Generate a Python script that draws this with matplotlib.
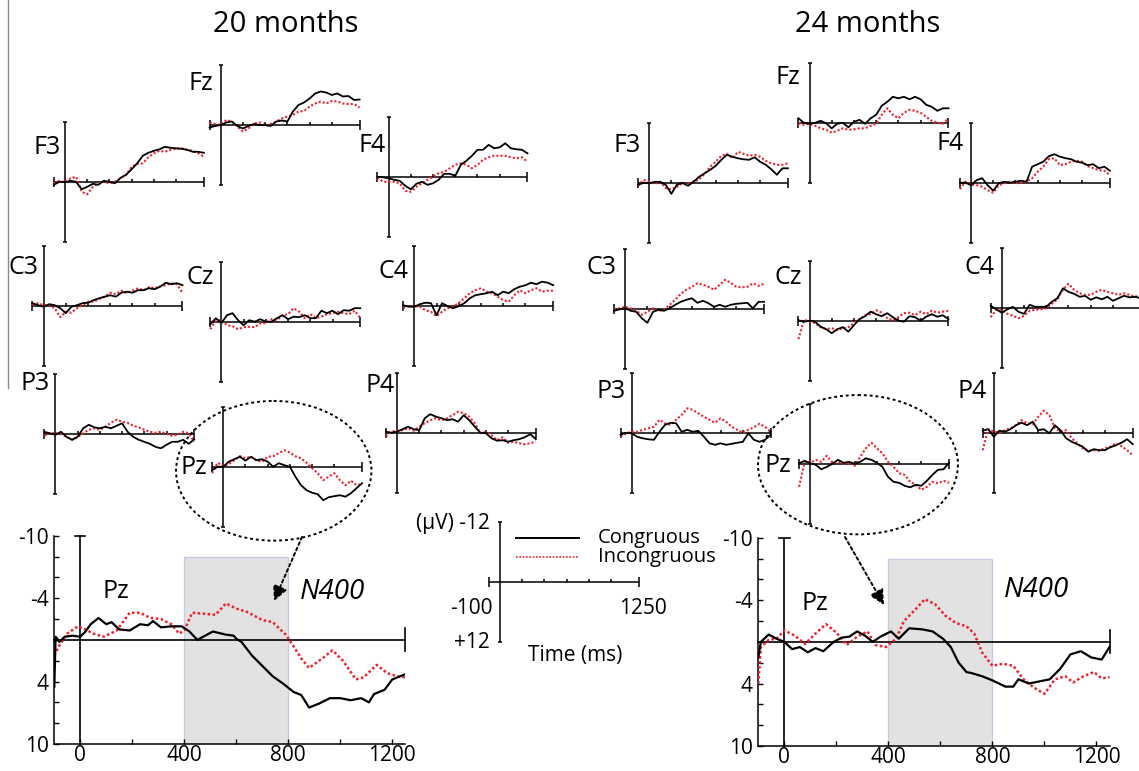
import numpy as np
import matplotlib
matplotlib.use('Agg')
import matplotlib.pyplot as plt
from matplotlib.patches import Ellipse, Rectangle

W, H = 1139, 771
RED = '#f0202a'
plt.rcParams['font.family'] = ['Open Sans', 'DejaVu Sans']

# ---- data -----------------------------------------------------------------
# time points (ms) at which the small electrode waveforms were read
t_small = [-100, -50, 0, 50, 100, 150, 200, 250, 300, 350, 400, 450, 500, 550,
           600, 650, 700, 750, 800, 850, 900, 950, 1000, 1050, 1100, 1150, 1200, 1250]

# 20 months, amplitude in uV (negative up)
f3_20_con = [0.5, -0.1, 0.0, -0.3, -0.1, 1.4, 0.9, 0.3, 0.5, -0.3, -0.1, 0.2, -0.9, -1.5,
             -2.6, -3.8, -5.3, -5.9, -6.3, -6.6, -7.1, -6.9, -6.8, -6.7, -6.5, -6.1, -6.1, -5.9]
f3_20_inc = [0.2, -0.3, 0.0, -0.8, -1.1, 1.9, 2.4, 0.9, 0.2, -0.1, 0.2, -0.1, -0.8, -1.5,
             -3.1, -3.7, -3.8, -5.0, -5.8, -6.3, -6.1, -6.5, -6.7, -6.8, -6.5, -6.3, -5.8, -5.1]
fz_20_con = [0.5, 0.2, 0.0, -0.5, -0.7, 0.2, 0.7, 0.2, -0.2, 0.0, 0.0, 0.2, -0.7, -0.9,
             -0.7, -2.7, -4.0, -4.5, -5.3, -6.3, -6.7, -6.5, -6.0, -6.3, -5.7, -5.8, -5.0, -5.1]
fz_20_inc = [-0.5, -0.2, 0.0, -1.0, -0.7, 0.3, 1.3, 0.7, -0.3, -0.5, 0.2, -0.2, -0.7, -1.3,
             -1.7, -2.0, -2.7, -2.8, -3.7, -4.3, -4.7, -4.3, -4.8, -4.7, -4.3, -4.2, -4.2, -3.5]
f4_20_con = [-0.1, 0.0, 0.2, 0.5, 0.7, 1.7, 2.4, 1.3, 0.9, 1.5, 1.2, 0.5, -0.7, -0.7,
             -0.3, -2.5, -3.3, -4.3, -5.5, -5.5, -6.5, -5.8, -6.0, -6.8, -5.8, -5.6, -5.5, -4.8]
f4_20_inc = [0.0, 0.9, 0.9, 0.9, 1.2, 2.7, 2.9, 1.9, 1.2, 0.5, -0.1, -0.8, -1.1, -1.8,
             -2.5, -2.8, -2.5, -1.8, -2.5, -3.5, -4.0, -4.3, -4.3, -4.3, -4.0, -3.8, -4.0, -3.1]
c3_20_con = [-0.5, -0.1, 0.2, -0.3, -0.1, 0.5, 1.5, 0.2, -0.1, -0.5, -0.6, -1.1, -1.5, -1.8,
             -2.1, -1.8, -2.6, -2.8, -2.6, -3.1, -3.1, -3.5, -3.3, -3.8, -4.6, -4.3, -4.5, -4.1]
c3_20_inc = [-0.1, -0.5, -0.1, -0.1, 0.5, 2.3, 1.2, 1.4, 0.5, -0.1, -0.8, -0.8, -1.3, -1.8,
             -2.6, -2.3, -3.0, -2.5, -3.0, -3.5, -3.1, -3.7, -3.5, -3.9, -4.1, -4.5, -4.3, -2.6]
cz_20_con = [0.5, -0.7, 0.3, -1.3, -1.7, -0.3, 0.7, -0.3, 0.0, -0.5, 0.0, 0.0, -0.7, -1.3,
             -0.5, -1.0, -0.9, -1.3, -0.7, -0.7, -2.2, -1.7, -2.2, -1.5, -2.3, -2.2, -2.7, -2.7]
cz_20_inc = [1.5, -0.3, -0.3, 0.7, 0.9, 1.5, 1.1, 1.0, 1.1, 0.3, 0.3, -0.5, -0.3, -1.3,
             -1.5, -2.7, -2.0, -0.7, -1.5, -0.7, -1.0, -1.5, -1.7, -2.0, -1.7, -1.5, -2.2, -0.7]
c4_20_con = [-0.1, 0.2, 0.2, -0.3, -0.6, -0.5, 1.9, -0.5, 0.1, 0.5, 0.1, -0.5, -1.5, -2.1,
             -2.3, -2.5, -2.8, -2.1, -2.8, -2.5, -3.3, -3.8, -4.1, -4.6, -4.3, -4.8, -4.6, -4.1]
c4_20_inc = [0.5, 0.1, 0.1, 0.2, 0.9, 1.2, 2.1, 1.2, 0.5, 0.1, -0.5, -1.5, -2.5, -3.1,
             -3.5, -2.8, -2.5, -1.8, -1.1, -0.8, -2.1, -3.1, -2.5, -3.1, -3.5, -2.8, -3.0, -3.0]
p3_20_con = [-0.5, -0.2, 0.1, -0.5, 0.5, 1.1, 0.5, -1.2, -1.9, -1.4, -1.2, -1.5, -1.2, -1.7,
             -2.2, -0.5, 0.5, 1.1, 1.5, 1.9, 2.5, 2.8, 2.1, 1.5, 1.5, 1.1, 1.9, 1.0]
p3_20_inc = [0.3, -0.3, -0.2, -0.1, 0.5, 1.1, 0.6, -0.2, -0.9, -1.2, -0.9, -1.5, -2.3, -2.9,
             -2.5, -2.3, -1.7, -1.4, -0.9, -0.5, -0.3, -0.5, -0.1, 0.3, 0.1, -0.5, -0.2, 1.5]
pz_20_con = [0.7, 0.0, 0.0, -1.0, -1.5, -2.0, -1.2, -2.0, -1.3, -1.5, -1.0, 0.0, -0.7, -0.3,
             0.0, 2.0, 3.7, 4.7, 5.2, 5.5, 6.7, 6.1, 5.9, 5.7, 6.0, 5.3, 4.3, 3.3]
pz_20_inc = [1.3, -0.8, -0.1, -0.5, -1.3, -2.1, -1.7, -2.0, -1.2, -1.0, -2.0, -2.1, -2.7, -3.3,
             -2.8, -2.1, -1.7, -0.8, 0.3, 1.3, 2.7, 2.0, 1.3, 2.7, 3.7, 2.8, 3.7, 3.5]
p4_20_con = [-0.2, 0.0, -0.2, -0.7, -1.2, -0.7, -0.5, -2.9, -3.7, -3.2, -2.9, -2.5, -2.7, -2.2,
             -3.5, -2.5, -1.2, 0.0, 0.1, 1.1, 1.6, 1.5, 1.8, 1.5, 1.3, 0.9, 0.3, 1.3]
p4_20_inc = [0.7, -0.2, -0.4, -0.5, -0.9, -0.4, -1.2, -1.9, -2.5, -2.9, -2.5, -2.9, -3.5, -4.2,
             -3.9, -3.2, -1.9, 0.1, -0.2, 0.5, 1.5, 0.9, 2.0, 1.8, 2.1, 2.3, 2.1, 1.8]

# 24 months
f3_24_con = [0.3, -0.1, 0.0, -0.3, -0.3, 0.3, 2.1, 0.3, -0.1, 0.5, -0.3, -1.3, -2.0, -2.7,
             -3.5, -4.7, -5.7, -5.3, -5.0, -4.8, -4.7, -5.2, -4.3, -3.7, -2.8, -1.7, -3.0, -3.0]
f3_24_inc = [0.5, -0.7, -0.3, 0.1, -0.3, 1.0, 1.2, 0.7, 0.0, 0.1, -0.3, -0.8, -1.9, -3.3,
             -4.3, -5.5, -5.9, -5.0, -6.3, -5.9, -5.5, -5.7, -5.3, -4.5, -4.0, -3.7, -3.7, -4.0]
fz_24_con = [-1.0, -0.1, 0.1, -0.1, -0.5, 0.0, 1.0, 0.1, -0.1, 0.8, -0.3, -0.7, 0.1, -1.0,
             -1.7, -3.5, -4.3, -5.3, -5.0, -5.3, -4.8, -5.3, -4.8, -3.7, -3.3, -2.5, -3.0, -3.0]
fz_24_inc = [0.0, 0.3, 0.1, 0.5, 1.0, 1.3, 1.9, 1.5, 1.0, 1.3, 1.2, 1.0, 1.0, 0.5,
             0.1, -1.7, -3.0, -1.7, -1.0, -2.1, -2.7, -2.5, -2.1, -1.3, -0.5, -0.1, 0.1, -1.0]
f4_24_con = [0.0, 0.0, 0.5, -0.5, -0.9, 0.5, 1.6, 0.1, -0.2, 0.0, -0.2, -0.4, -0.2, -3.2,
             -3.7, -4.2, -5.3, -5.7, -5.2, -4.9, -4.7, -4.2, -4.0, -3.5, -3.7, -2.9, -3.2, -2.4]
f4_24_inc = [1.3, -0.2, 0.3, 0.5, 0.8, 1.5, 2.0, 0.5, 0.1, -0.2, 0.1, 0.0, -0.2, -0.9,
             -2.2, -3.2, -4.7, -4.9, -3.5, -3.7, -4.2, -4.4, -4.2, -3.3, -2.9, -2.5, -2.4, -1.5]
c3_24_con = [0.3, 0.0, -0.2, 0.3, 0.5, 1.8, 2.7, 0.5, 0.1, 0.3, -0.2, -0.9, -1.5, -1.9,
             -2.2, -1.3, -1.7, -1.2, -0.5, -0.9, -0.5, -0.9, -1.1, -1.2, -1.3, -0.2, -1.5, -1.5]
c3_24_inc = [0.1, -0.2, -0.5, -0.2, 0.3, 1.1, 0.5, -0.2, 0.3, 0.1, -0.9, -1.9, -3.1, -3.9,
             -4.5, -5.2, -4.9, -4.5, -3.9, -4.9, -5.9, -5.3, -4.5, -4.4, -4.5, -5.2, -4.7, -5.1]
cz_24_con = [-0.1, 0.2, 0.0, 0.2, 1.2, 1.7, 2.5, 1.7, 1.3, 2.2, 0.9, -0.3, -0.9, -1.8,
             -1.3, -0.9, -1.5, -0.7, 0.0, 0.2, -0.9, -0.7, 0.0, -0.8, -1.3, -0.8, -1.1, -0.3]
cz_24_inc = [3.7, -0.1, 0.0, 0.5, 1.3, 1.7, 1.5, 1.9, 1.5, 1.3, 0.5, -0.3, -1.1, -1.3,
             -2.1, -1.6, -0.5, -0.1, -0.7, -1.5, -1.6, -1.1, -1.8, -1.3, -2.0, -1.6, -1.8, -2.0]
c4_24_con = [-0.5, 0.2, 0.9, 0.2, -0.3, 0.7, 1.1, -0.7, -0.3, -0.3, -0.3, -1.3, -2.0, -4.0,
             -3.3, -2.9, -2.3, -2.5, -1.7, -2.2, -1.8, -2.3, -1.5, -2.0, -2.5, -2.2, -2.3, -2.0]
c4_24_inc = [1.8, 0.3, 0.3, 1.1, 1.5, 2.0, 1.5, 0.5, 0.3, 0.2, 0.0, -0.9, -1.8, -3.7,
             -4.9, -3.7, -3.0, -2.7, -2.7, -3.3, -3.7, -3.3, -3.0, -2.7, -3.0, -2.7, -2.3, -2.7]
p3_24_con = [0.3, -0.1, 0.0, 0.7, 1.0, 1.2, 1.3, -0.3, -1.7, -2.1, -2.0, -0.3, -0.7, -0.3,
             -0.5, 0.7, 2.0, 2.3, 2.0, 2.3, 2.1, 1.9, 1.7, 0.0, 1.3, 1.7, 1.3, 0.3]
p3_24_inc = [0.7, 0.0, -0.3, -0.3, -0.7, -1.0, -1.3, -2.7, -2.0, -1.7, -2.7, -3.7, -5.0, -4.7,
             -4.0, -3.3, -2.7, -2.1, -3.0, -2.3, -1.3, -0.7, -0.1, -0.7, -1.2, -1.9, -1.3, -0.3]
pz_24_con = [-0.2, -0.7, -0.2, 0.1, 1.0, 0.5, -0.1, -0.9, -0.3, -0.5, -0.1, -0.5, -1.2, -0.9,
             -0.3, 0.5, 2.5, 3.5, 3.7, 4.3, 4.6, 4.1, 4.3, 3.3, 2.1, 1.1, 1.0, -0.3]
pz_24_inc = [4.5, -0.5, -0.3, -0.9, -0.5, -1.7, -0.3, -0.5, -0.1, -0.3, 0.3, -1.5, -3.2, -4.3,
             -3.2, -2.2, -0.5, 0.5, 1.8, 2.1, 3.5, 4.1, 5.1, 4.5, 3.5, 3.8, 3.3, 3.7]
p4_24_con = [-0.4, -0.7, 0.8, -0.4, -0.2, -0.7, -1.5, -2.0, -1.5, -2.2, -0.5, -0.7, 0.1, -1.5,
             -0.5, 1.1, 1.8, 2.3, 2.8, 3.8, 3.3, 3.5, 3.5, 2.9, 2.5, 2.0, 1.3, 2.3]
p4_24_inc = [3.5, -0.7, -0.2, 0.0, -0.5, -0.9, -1.5, -2.5, -1.9, -1.7, -3.2, -4.4, -3.5, -0.9,
             -0.2, -0.5, 1.1, 2.1, 3.1, 3.6, 3.5, 3.6, 3.1, 2.8, 2.1, 2.7, 3.5, 4.5]

# enlarged Pz waveforms
pz20_t_con = [-100, -95, -80, -60, -30, 0, 20, 40, 70, 100, 120, 150, 190, 230, 260, 280, 310,
              350, 390, 420, 450, 480, 510, 560, 590, 600, 620, 660, 700, 740, 780, 820, 850,
              880, 920, 960, 1000, 1040, 1080, 1110, 1130, 1170, 1200, 1250]
pz20_con = [4.5, -0.3, 0.2, -0.3, -0.4, -0.3, -0.8, -1.5, -2.1, -1.5, -1.7, -1.0, -0.9, -1.5,
            -1.4, -1.8, -1.2, -1.3, -1.3, -0.8, 0.0, -0.4, -0.8, -0.5, -0.4, -0.1, 0.2, 1.5,
            2.5, 3.5, 4.2, 5.0, 5.3, 6.5, 6.1, 5.6, 5.6, 5.8, 5.6, 6.0, 5.2, 4.8, 3.8, 3.3]
pz20_t_inc = [-100, -80, -50, -10, 20, 50, 90, 140, 190, 230, 270, 310, 350, 380, 400, 430,
              480, 520, 560, 600, 640, 700, 740, 790, 820, 850, 880, 930, 970, 1010, 1060,
              1090, 1140, 1180, 1220, 1250]
pz20_inc = [1.5, 0.5, -0.6, -1.3, -1.0, -0.6, -0.3, -0.9, -2.6, -2.6, -2.1, -2.0, -1.5, -0.6,
            -0.9, -2.6, -2.5, -2.4, -3.5, -3.0, -2.7, -1.9, -1.7, -0.5, 0.6, 1.8, 2.7, 1.8,
            1.0, 2.0, 3.8, 3.6, 2.4, 3.2, 3.5, 3.6]
pz24_t_con = [-100, -90, -60, -30, 0, 30, 60, 90, 120, 150, 190, 220, 250, 280, 310, 340, 370,
              410, 440, 480, 530, 570, 610, 640, 670, 700, 720, 760, 800, 850, 880, 900, 940,
              980, 1020, 1060, 1100, 1140, 1180, 1220, 1250]
pz24_con = [1.5, 0.0, -0.7, -0.3, 0.0, 0.7, 0.5, 1.0, 0.6, 0.9, 0.0, -0.4, -0.5, -1.0, -0.6,
            0.0, -0.5, -1.0, -0.3, -1.3, -1.2, -1.0, -0.3, 0.5, 2.0, 2.9, 3.0, 3.3, 3.7, 4.3,
            4.3, 3.6, 4.0, 3.8, 3.6, 2.6, 1.2, 0.9, 1.5, 1.7, 0.5]
pz24_t_inc = [-100, -90, -60, -30, 0, 40, 80, 120, 160, 200, 240, 280, 320, 350, 390, 430, 460,
              500, 540, 580, 620, 660, 700, 730, 760, 800, 840, 880, 920, 960, 1000, 1040,
              1080, 1110, 1150, 1190, 1220, 1250]
pz24_inc = [4.0, 0.5, -0.2, -0.3, -1.1, -0.6, 0.2, -0.8, -1.7, -0.9, 0.3, -0.5, -1.0, 0.3, 0.5,
            -0.3, -2.0, -3.0, -4.1, -3.6, -2.5, -1.8, -1.5, -0.8, 1.0, 2.3, 2.1, 2.3, 3.6, 4.4,
            5.0, 3.6, 3.3, 3.9, 3.3, 2.9, 3.5, 3.4]

# ---- layout (pixels) ------------------------------------------------------
PX_MS = 150 / 1350   # small panels: px per ms
PX_UV = 5            # small panels: px per uV

# electrode: (x of t=0, y of 0 uV, label right edge, label y)
layout20 = {
    'F3': (65.0, 182.3, 61, 147), 'Fz': (220.7, 125.0, 213, 83), 'F4': (388.6, 177.3, 386, 145),
    'C3': (43.6, 305.7, 38, 268), 'Cz': (221.4, 321.7, 214, 277), 'C4': (414.3, 305.7, 409, 272),
    'P3': (55.4, 434.3, 50, 384), 'Pz': (223.2, 466.7, 207, 467), 'P4': (397.0, 432.7, 395, 385),
}
layout24 = {
    'F3': (649.1, 183.3, 641, 145), 'Fz': (809.5, 123.3, 800, 77), 'F4': (971.0, 182.7, 964, 143),
    'C3': (625.2, 309.3, 616, 268), 'Cz': (809.5, 320.7, 802, 278), 'C4': (1001.8, 308.3, 995, 268),
    'P3': (631.7, 433.3, 626, 392), 'Pz': (810.2, 464.3, 791, 466), 'P4': (993.8, 432.7, 987, 392),
}
waves20 = {'F3': (f3_20_con, f3_20_inc), 'Fz': (fz_20_con, fz_20_inc), 'F4': (f4_20_con, f4_20_inc),
           'C3': (c3_20_con, c3_20_inc), 'Cz': (cz_20_con, cz_20_inc), 'C4': (c4_20_con, c4_20_inc),
           'P3': (p3_20_con, p3_20_inc), 'Pz': (pz_20_con, pz_20_inc), 'P4': (p4_20_con, p4_20_inc)}
waves24 = {'F3': (f3_24_con, f3_24_inc), 'Fz': (fz_24_con, fz_24_inc), 'F4': (f4_24_con, f4_24_inc),
           'C3': (c3_24_con, c3_24_inc), 'Cz': (cz_24_con, cz_24_inc), 'C4': (c4_24_con, c4_24_inc),
           'P3': (p3_24_con, p3_24_inc), 'Pz': (pz_24_con, pz_24_inc), 'P4': (p4_24_con, p4_24_inc)}


def small_axes(fig, x0, y0):
    # axes whose data coords are ms / uV, placed so t=0,0uV sits at pixel (x0, y0)
    left = x0 - 100 * PX_MS
    ax = fig.add_axes([left / W, 1 - (y0 + 12 * PX_UV) / H, 1350 * PX_MS / W, 24 * PX_UV / H])
    ax.set_xlim(-100, 1250)
    ax.set_ylim(12, -12)
    ax.axis('off')
    kw = dict(color='k', lw=1.1, clip_on=False, solid_capstyle='butt')
    ax.plot([-100, 1250], [0, 0], **kw)
    ax.plot([-100, -100], [-1, 1], **kw)
    ax.plot([1250, 1250], [-1, 1], **kw)
    for t in range(200, 1001, 200):
        ax.plot([t, t], [0, -0.6], **kw)
    ax.plot([0, 0], [-12, 12], **kw)
    ax.plot([-18, 18], [-12, -12], **kw)
    ax.plot([-18, 18], [12, 12], **kw)
    return ax


def big_panel(fig, left, right, top, bottom, t_con, con, t_inc, inc):
    ax = fig.add_axes([left / W, 1 - bottom / H, (right - left) / W, (bottom - top) / H])
    ax.set_xlim(-100, 1250)
    ax.set_ylim(10, -10)
    ax.patch.set_visible(False)
    for s in ['top', 'right']:
        ax.spines[s].set_visible(False)
    for s in ['left', 'bottom']:
        ax.spines[s].set_linewidth(1.1)
    ax.add_patch(Rectangle((400, -8), 400, 18, fc='#e2e2e2', ec='#c9c9e4', lw=1, zorder=0))
    kw = dict(color='k', lw=1.2, clip_on=False)
    ax.plot([-100, 1250], [0, 0], **kw)
    ax.plot([1250, 1250], [-1.1, 1.1], **kw)
    ax.plot([0, 0], [-10, 10], **kw)
    ax.plot([-20, 20], [-10, -10], **kw)
    ax.plot(t_con, con, color='k', lw=1.6, zorder=4)
    ax.plot(t_inc, inc, color=RED, lw=1.8, ls=(0, (1, 1)), zorder=3)
    ax.set_xticks(range(0, 1201, 200))
    ax.set_xticklabels(['0', '', '400', '', '800', '', '1200'])
    ax.set_yticks(range(-10, 11, 2))
    ax.set_yticklabels(['-10', '', '', '-4', '', '', '', '4', '', '', '10'])
    ax.tick_params(direction='in', length=3.5, width=1, labelsize=15, pad=4)
    ax.tick_params(axis='x', pad=1)
    return ax


fig = plt.figure(figsize=(W / 100, H / 100), dpi=100)

for layout, waves in [(layout20, waves20), (layout24, waves24)]:
    for name, (x0, y0, lx, ly) in layout.items():
        ax = small_axes(fig, x0, y0)
        con, inc = waves[name]
        ax.plot(t_small, con, color='k', lw=1.3, clip_on=False, zorder=4)
        ax.plot(t_small, inc, color=RED, lw=1.5, ls=(0, (1, 1)), clip_on=False, zorder=3)

big_panel(fig, 54.3, 405.3, 535.7, 744, pz20_t_con, pz20_con, pz20_t_inc, pz20_inc)
big_panel(fig, 758.3, 1109.5, 537.7, 746, pz24_t_con, pz24_con, pz24_t_inc, pz24_inc)

# scale bar (same scale as the electrode panels)
small_axes(fig, 500, 582)

# overlay in pixel coordinates for labels and annotations
ov = fig.add_axes([0, 0, 1, 1])
ov.set_xlim(0, W)
ov.set_ylim(H, 0)
ov.axis('off')
ov.patch.set_visible(False)

ov.text(286, 25, '20 months', fontsize=21, ha='center', va='center')
ov.text(868, 25, '24 months', fontsize=21, ha='center', va='center')
ov.plot([8, 8], [0, 388], color='#8a8a8a', lw=1)

for layout in [layout20, layout24]:
    for name, (x0, y0, lx, ly) in layout.items():
        ov.text(lx, ly, name, fontsize=18, ha='right', va='center')

ov.text(116, 592, 'Pz', fontsize=18, ha='center', va='center')
ov.text(815, 603, 'Pz', fontsize=18, ha='center', va='center')
ov.text(300, 592, 'N400', fontsize=20, style='italic', ha='left', va='center')
ov.text(1004, 590, 'N400', fontsize=20, style='italic', ha='left', va='center')

dot = (0, (1.5, 1.5))
ov.add_patch(Ellipse((273.7, 470.8), 195.4, 139.7, fill=False, ls=dot, lw=1.4, color='k'))
ov.add_patch(Ellipse((858.0, 464.7), 200.0, 139.3, fill=False, ls=dot, lw=1.4, color='k'))
arrow = dict(arrowstyle='-|>,head_length=0.9,head_width=0.45', ls=dot, lw=1.4, color='k',
             shrinkA=0, shrinkB=0)
ov.annotate('', xy=(274, 601), xytext=(302, 537), arrowprops=arrow)
ov.annotate('', xy=(884, 605), xytext=(845, 537), arrowprops=arrow)

# legend
ov.plot([516, 579], [538, 538], color='k', lw=1.4)
ov.plot([516, 579], [557, 557], color=RED, lw=1.2, ls=(0, (1, 1)))
ov.text(598, 538, 'Congruous', fontsize=14.5, ha='left', va='center')
ov.text(598, 557, 'Incongruous', fontsize=14.5, ha='left', va='center')

# scale bar labels
ov.text(490, 524, '(\u00b5V) -12', fontsize=15, ha='right', va='center')
ov.text(493, 608, '-100', fontsize=15, ha='right', va='center')
ov.text(643, 608, '1250', fontsize=15, ha='center', va='center')
ov.text(490, 643, '+12', fontsize=15, ha='right', va='center')
ov.text(528, 655, 'Time (ms)', fontsize=15, ha='left', va='center')

fig.savefig('out.png', dpi=100)
